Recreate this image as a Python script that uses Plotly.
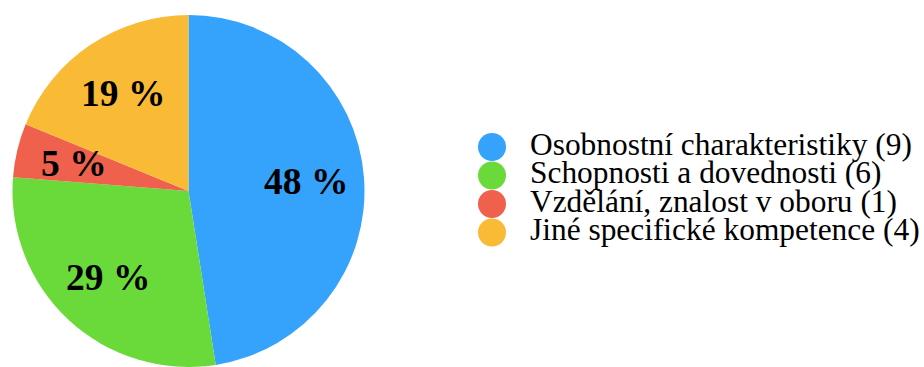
import math
import plotly.graph_objects as go

# ---- data ----
categories = ["Osobnostní charakteristiky", "Schopnosti a dovednosti",
              "Vzdělání, znalost v oboru", "Jiné specifické kompetence"]
counts = [9, 6, 1, 4]
shares = [48, 29, 5, 19]
colors = ["#35A3FC", "#69DA3A", "#F0614D", "#F9BB35"]

# ---- layout constants ----
W, H = 924, 367
cx, cy, R = 188.5, 191, 176          # pie centre (px from left/top) and radius
FONT = "Liberation Serif"

fig = go.Figure()

fig.add_trace(go.Pie(
    labels=categories, values=shares, marker=dict(colors=colors, line=dict(width=0)),
    sort=False, direction="clockwise", rotation=0, textinfo="none",
    hoverinfo="label+percent", showlegend=False,
    domain=dict(x=[(cx - R) / W, (cx + R) / W], y=[(H - cy - R) / H, (H - cy + R) / H]),
))

# percentage labels at 0.67 R along each slice's mid-angle
total = sum(shares)
annotations = []
cum = 0
for s in shares:
    mid = (cum + s / 2) / total * 2 * math.pi
    cum += s
    annotations.append(dict(
        x=cx + 0.67 * R * math.sin(mid), y=cy - 0.67 * R * math.cos(mid),
        xref="x", yref="y", text=f"<b>{round(100 * s / total)} %</b>",
        showarrow=False, font=dict(family=FONT, size=37.5, color="black"),
        xanchor="center", yanchor="middle",
    ))

# custom legend with round markers
row_y = [147 + i * 28.5 for i in range(len(categories))]
fig.add_trace(go.Scatter(
    x=[492] * len(categories), y=row_y, mode="markers",
    marker=dict(size=28, color=colors, line=dict(width=0)),
    hoverinfo="skip", showlegend=False,
))
fig.add_trace(go.Scatter(
    x=[530] * len(categories), y=row_y, mode="text",
    text=[f"{c} ({n})" for c, n in zip(categories, counts)],
    textposition="middle right", textfont=dict(family=FONT, size=31.4, color="black"),
    hoverinfo="skip", showlegend=False,
))

fig.update_layout(
    width=W, height=H, margin=dict(l=0, r=0, t=0, b=0),
    paper_bgcolor="white", plot_bgcolor="white",
    font=dict(family=FONT),
    xaxis=dict(range=[0, W], visible=False, fixedrange=True),
    yaxis=dict(range=[H, 0], visible=False, fixedrange=True),
    annotations=annotations, showlegend=False,
)

fig.write_html("out.html")
